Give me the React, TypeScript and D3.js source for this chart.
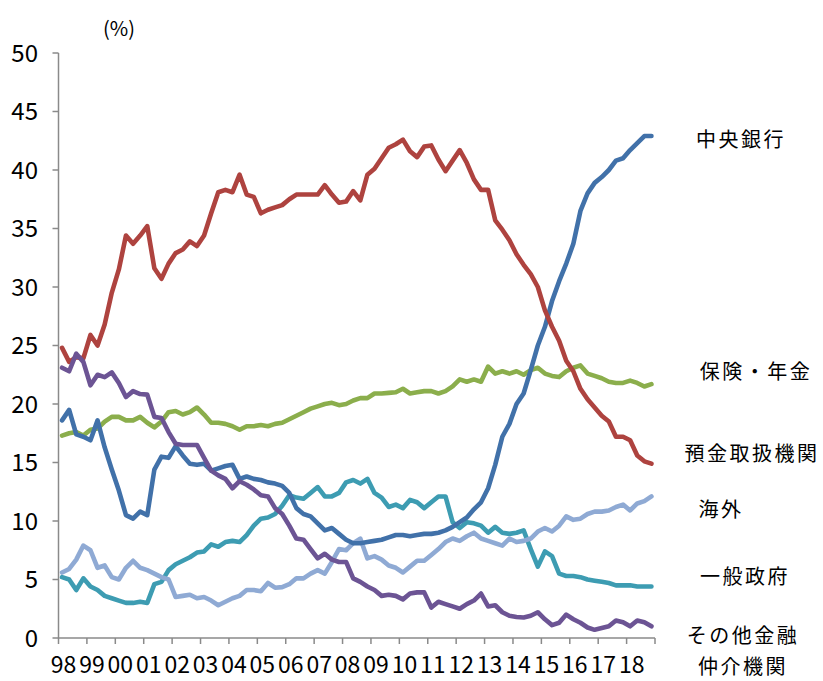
import React from "react";
import * as d3 from "d3";

const yearLabels = ["98","99","00","01","02","03","04","05","06","07","08","09","10","11","12","13","14","15","16","17","18"];

// Quarterly shares (%), 1998Q1 - 2018Q4
const centralBank = [18.6,19.5,17.4,17.2,16.9,18.6,16.3,14.4,12.6,10.5,10.2,10.8,10.5,14.4,15.5,15.4,16.4,15.6,14.9,14.8,14.9,14.3,14.5,14.7,14.8,13.6,13.8,13.6,13.5,13.3,13.2,13.0,12.4,11.1,10.6,10.4,9.8,9.2,9.4,8.9,8.4,8.1,8.1,8.2,8.3,8.4,8.6,8.8,8.8,8.7,8.8,8.9,8.9,9.0,9.2,9.5,9.9,10.3,11.0,11.6,12.8,14.8,17.2,18.3,20.0,20.9,22.9,25.0,26.6,28.8,30.5,32.0,33.7,36.5,38.0,38.9,39.4,40.0,40.8,41.0,41.7,42.3,42.9,42.9];
const depository = [24.8,23.6,24.0,23.9,25.9,25.0,26.8,29.5,31.5,34.4,33.7,34.4,35.2,31.6,30.7,32.0,32.9,33.2,33.9,33.5,34.4,36.3,38.1,38.3,38.1,39.6,37.9,37.7,36.3,36.6,36.8,37.0,37.5,37.9,37.9,37.9,37.9,38.7,37.9,37.2,37.3,38.2,37.4,39.6,40.1,41.0,41.9,42.2,42.6,41.6,41.1,42.0,42.1,40.9,39.9,40.8,41.7,40.6,39.2,38.3,38.3,35.7,34.9,34.0,32.8,31.9,31.1,30.0,28.0,26.6,25.4,23.7,22.8,21.3,20.4,19.7,19.0,18.5,17.2,17.2,16.9,15.6,15.1,14.9];
const insurance = [17.3,17.5,17.6,17.3,17.8,17.9,18.5,18.9,18.9,18.6,18.6,18.9,18.4,18.0,18.5,19.3,19.4,19.1,19.3,19.7,19.1,18.4,18.4,18.3,18.1,17.8,18.1,18.1,18.2,18.1,18.3,18.4,18.7,19.0,19.3,19.6,19.8,20.0,20.1,19.9,20.0,20.3,20.5,20.5,20.9,20.9,20.95,21.0,21.3,20.9,21.0,21.1,21.1,20.9,21.1,21.5,22.1,21.9,22.1,21.9,23.2,22.6,22.8,22.6,22.8,22.5,22.9,23.1,22.6,22.4,22.3,22.8,23.1,23.3,22.6,22.4,22.2,21.9,21.8,21.8,22.0,21.8,21.5,21.7];
const overseas = [5.6,5.9,6.7,7.9,7.5,6.0,6.2,5.2,5.0,6.0,6.6,6.0,5.8,5.5,5.2,5.0,3.5,3.6,3.7,3.4,3.5,3.2,2.8,3.1,3.4,3.6,4.1,4.1,4.0,4.7,4.3,4.35,4.6,5.1,5.1,5.5,5.8,5.5,6.5,7.6,7.5,8.1,8.5,6.8,7.0,6.7,6.2,6.0,5.6,6.1,6.6,6.6,7.1,7.6,8.2,8.5,8.3,8.7,9.0,8.5,8.3,8.1,7.9,8.5,8.2,8.3,8.5,9.1,9.4,9.1,9.6,10.4,10.1,10.2,10.6,10.8,10.8,10.9,11.2,11.4,10.9,11.5,11.7,12.1];
const government = [5.2,5.0,4.1,5.1,4.4,4.1,3.6,3.4,3.2,3.0,3.0,3.1,3.0,4.6,4.8,5.8,6.3,6.6,6.9,7.3,7.4,8.0,7.8,8.2,8.3,8.2,8.8,9.6,10.2,10.3,10.6,11.3,12.2,12.0,11.9,12.4,12.9,12.1,12.1,12.4,13.3,13.5,13.2,13.6,12.4,12.0,11.2,11.4,11.1,11.8,11.6,11.1,11.6,12.1,12.1,9.9,9.4,9.9,9.8,9.6,9.0,9.5,9.0,8.9,9.0,9.2,7.6,6.1,7.4,7.0,5.5,5.3,5.3,5.2,5.0,4.9,4.8,4.7,4.5,4.5,4.5,4.4,4.4,4.4];
const otherFinancial = [23.1,22.8,24.3,23.6,21.6,22.5,22.3,22.7,21.8,20.6,21.1,20.85,20.8,18.9,18.8,17.6,16.6,16.5,16.5,16.5,15.4,14.3,13.9,13.6,12.8,13.4,13.1,12.7,12.2,12.1,11.1,10.6,9.6,8.5,8.4,7.6,6.8,7.2,6.7,6.5,6.5,5.1,4.8,4.4,4.1,3.6,3.7,3.6,3.3,3.8,3.9,3.9,2.6,3.1,2.9,2.7,2.5,2.9,3.2,3.8,2.7,2.8,2.2,1.9,1.8,1.75,1.9,2.2,1.6,1.1,1.3,2.0,1.6,1.3,0.9,0.7,0.85,1.0,1.5,1.35,1.0,1.5,1.35,1.0];

const yTicks = [0,5,10,15,20,25,30,35,40,45,50];

const seriesList = [
  { name: "保険・年金", values: insurance, color: "#8BAE4C" },
  { name: "一般政府", values: government, color: "#3D9CB2" },
  { name: "海外", values: overseas, color: "#8FAAD4" },
  { name: "中央銀行", values: centralBank, color: "#4171A9" },
  { name: "預金取扱機関", values: depository, color: "#AE433F" },
  { name: "その他金融仲介機関", values: otherFinancial, color: "#6C5494" },
];

const labels = [
  { lines: ["中央銀行"], x: 741, y: 140 },
  { lines: ["保険・年金"], x: 756, y: 372 },
  { lines: ["預金取扱機関"], x: 752, y: 454 },
  { lines: ["海外"], x: 721, y: 510 },
  { lines: ["一般政府"], x: 745, y: 577 },
  { lines: ["その他金融", "仲介機関"], x: 743, y: 636 },
];

const FONT = "'Noto Sans CJK JP', 'Noto Sans', sans-serif";

export default function App() {
  const n = centralBank.length;
  const x = d3.scaleLinear().domain([-0.5, n - 0.5]).range([58.5, 655]);
  const y = d3.scaleLinear().domain([0, 50]).range([638, 53]);
  const line = d3
    .line<number>()
    .x((_, i) => x(i))
    .y((d) => y(d));
  const axisColor = "#8a8a8a";
  const tickPositions = d3.range(0, n + 1, 4).map((i) => i - 0.5);

  return (
    <div style={{ position: "absolute", left: 0, top: 0 }}>
      <svg width={823} height={681} style={{ display: "block", background: "#fff" }}>
        <text x={119} y={36} fontFamily={FONT} fontSize={20} textAnchor="middle" fill="#000">(%)</text>
        {/* y axis */}
        <line x1={x(-0.5)} x2={x(-0.5)} y1={y(50)} y2={y(0)} stroke={axisColor} strokeWidth={1.5} />
        {yTicks.map((t) => (
          <g key={t}>
            <line x1={x(-0.5) - 6} x2={x(-0.5)} y1={y(t)} y2={y(t)} stroke={axisColor} strokeWidth={1.5} />
            <text x={38} y={y(t)} dy="0.36em" textAnchor="end" fontFamily={FONT} fontSize={24} fill="#000">{t}</text>
          </g>
        ))}
        {/* x axis */}
        <line x1={x(-0.5)} x2={x(n - 0.5)} y1={y(0)} y2={y(0)} stroke={axisColor} strokeWidth={1.5} />
        {tickPositions.map((p) => (
          <line key={p} x1={x(p)} x2={x(p)} y1={y(0)} y2={y(0) + 6} stroke={axisColor} strokeWidth={1.5} />
        ))}
        {yearLabels.map((lab, k) => (
          <text key={lab} x={x(4 * k) + 1.5} y={665} dy="0.36em" textAnchor="middle" fontFamily={FONT} fontSize={23} fill="#000">{lab}</text>
        ))}
        {seriesList.map((s) => (
          <path key={s.name} d={line(s.values) || ""} fill="none" stroke={s.color} strokeWidth={4.6} strokeLinejoin="round" strokeLinecap="round" />
        ))}
        {labels.map((l) => (
          <text key={l.lines[0]} fontFamily={FONT} fontSize={20} letterSpacing={2.5} textAnchor="middle" fill="#000">
            {l.lines.map((ln, j) => (
              <tspan key={j} x={l.x} y={l.y + j * 31} dy="0.36em">{ln}</tspan>
            ))}
          </text>
        ))}
      </svg>
    </div>
  );
}
